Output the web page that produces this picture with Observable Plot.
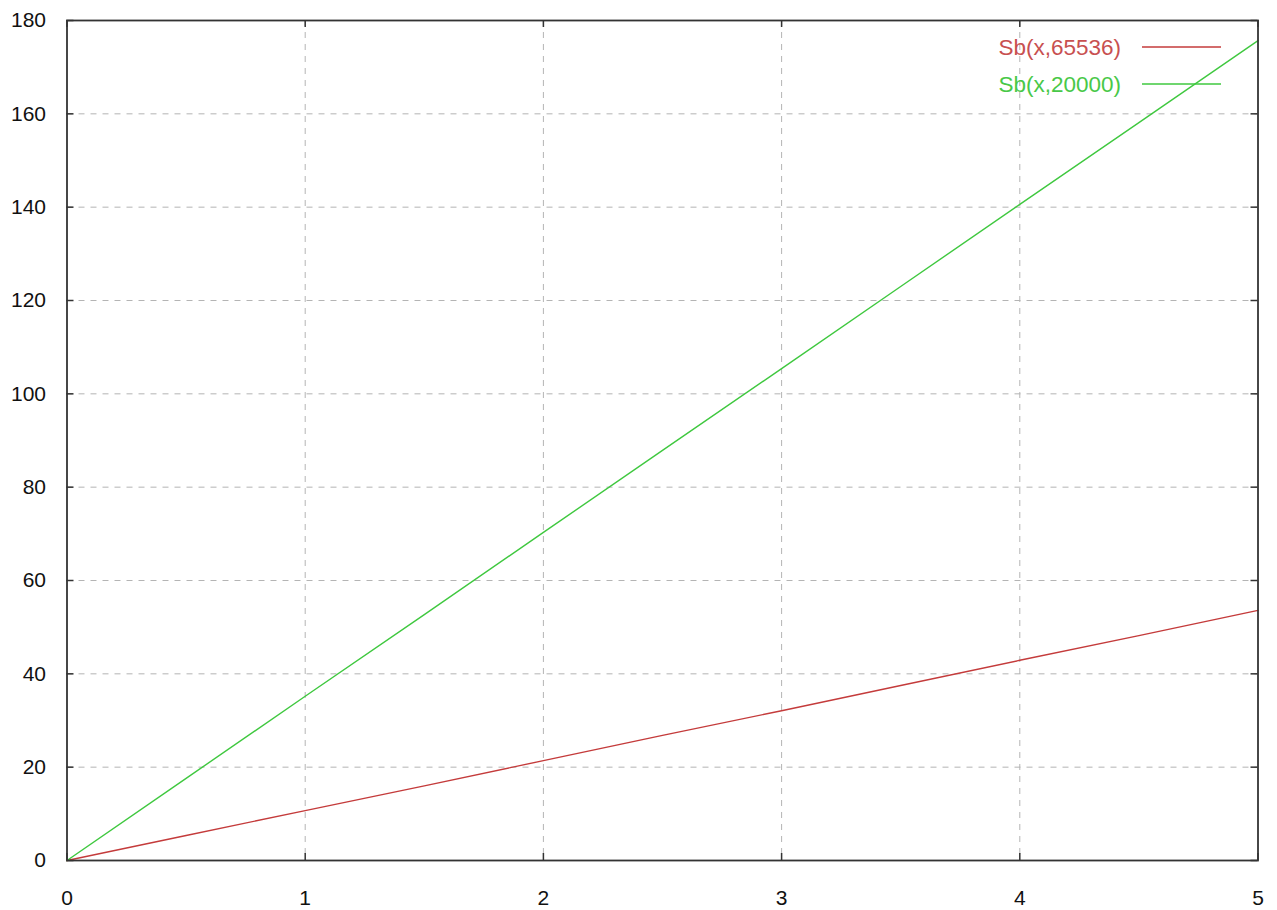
<!DOCTYPE html>
<html>
<head>
<meta charset="utf-8">
<script src="https://cdn.jsdelivr.net/npm/d3@7"></script>
<script src="https://cdn.jsdelivr.net/npm/@observablehq/plot@0.6"></script>
<style>
  html, body { margin: 0; padding: 0; background: #fff; }
  #chart { position: relative; width: 1277px; height: 910px; }
  svg { font-family: "Liberation Sans", Arial, sans-serif; }
</style>
</head>
<body>
<div id="chart"></div>
<script>
// ---- data ----
const xValues = [0, 0.5, 1, 1.5, 2, 2.5, 3, 3.5, 4, 4.5, 5];
const sb65536 = [0, 5.35, 10.7, 16.0, 21.4, 26.8, 32.1, 37.5, 42.9, 48.2, 53.6];
const sb20000 = [0, 17.6, 35.2, 52.7, 70.3, 87.9, 105.4, 123.0, 140.6, 158.1, 175.7];
const seriesNames = ["Sb(x,65536)", "Sb(x,20000)"];
const seriesColors = ["#c43b3b", "#3fc83f"];
const legendTextColors = ["#c85050", "#48c848"];
const xTicks = [0, 1, 2, 3, 4, 5];
const yTicks = [0, 20, 40, 60, 80, 100, 120, 140, 160, 180];

const rows = [];
[sb65536, sb20000].forEach((vals, s) => {
  xValues.forEach((x, i) => rows.push({series: seriesNames[s], x, y: vals[i]}));
});

const W = 1277, H = 910;
const mL = 66.5, mR = 19.5, mT = 20, mB = 50;
const innerH = H - mT - mB;
const innerW = W - mL - mR;
const tickLen = 7;

const chart = Plot.plot({
  width: W,
  height: H,
  marginLeft: mL,
  marginRight: mR,
  marginTop: mT,
  marginBottom: mB,
  style: {fontSize: "21px", fontFamily: "Liberation Sans, Arial, sans-serif", color: "#000", background: "#fff"},
  x: {domain: [0, 5], ticks: xTicks},
  y: {domain: [0, 180], ticks: yTicks},
  color: {domain: seriesNames, range: seriesColors},
  marks: [
    Plot.gridX(xTicks.slice(1, -1), {stroke: "#b4b4b4", strokeOpacity: 1, strokeWidth: 1, strokeDasharray: "6,6"}),
    Plot.gridY(yTicks.slice(1, -1), {stroke: "#b4b4b4", strokeOpacity: 1, strokeWidth: 1, strokeDasharray: "6,6"}),
    // inward tick marks (bottom, top, left, right)
    Plot.tickX(xTicks, {x: d => d, insetTop: innerH - tickLen, stroke: "#333", strokeWidth: 1.5}),
    Plot.tickX(xTicks, {x: d => d, insetBottom: innerH - tickLen, stroke: "#333", strokeWidth: 1.5}),
    Plot.tickY(yTicks, {y: d => d, insetRight: innerW - tickLen, stroke: "#333", strokeWidth: 1.5}),
    Plot.tickY(yTicks, {y: d => d, insetLeft: innerW - tickLen, stroke: "#333", strokeWidth: 1.5}),
    Plot.axisX(xTicks, {anchor: "bottom", tickSize: 0, tickPadding: 30, label: null, fontSize: 21, fill: "#111", tickFormat: d => String(d)}),
    Plot.axisY(yTicks, {anchor: "left", tickSize: 0, tickPadding: 21, label: null, fontSize: 21, fill: "#111", tickFormat: d => String(d)}),
    Plot.line(rows, {x: "x", y: "y", stroke: "series", strokeWidth: 1.4, curve: "linear"}),
    Plot.frame({stroke: "#333", strokeWidth: 1.8})
  ]
});

document.getElementById("chart").appendChild(chart);

// legend inside the top-right of the frame (gnuplot style)
const svg = d3.select(chart);
const lg = svg.append("g").attr("font-family", "Liberation Sans, Arial, sans-serif").attr("font-size", 22.5);
seriesNames.forEach((name, i) => {
  const yy = 47 + i * 37;
  lg.append("text")
    .attr("x", 1121).attr("y", yy).attr("dy", "0.35em")
    .attr("text-anchor", "end")
    .attr("fill", legendTextColors[i])
    .text(name);
  lg.append("line")
    .attr("x1", 1142).attr("x2", 1221)
    .attr("y1", yy).attr("y2", yy)
    .attr("stroke", seriesColors[i]).attr("stroke-width", 1.6);
});
</script>
</body>
</html>
